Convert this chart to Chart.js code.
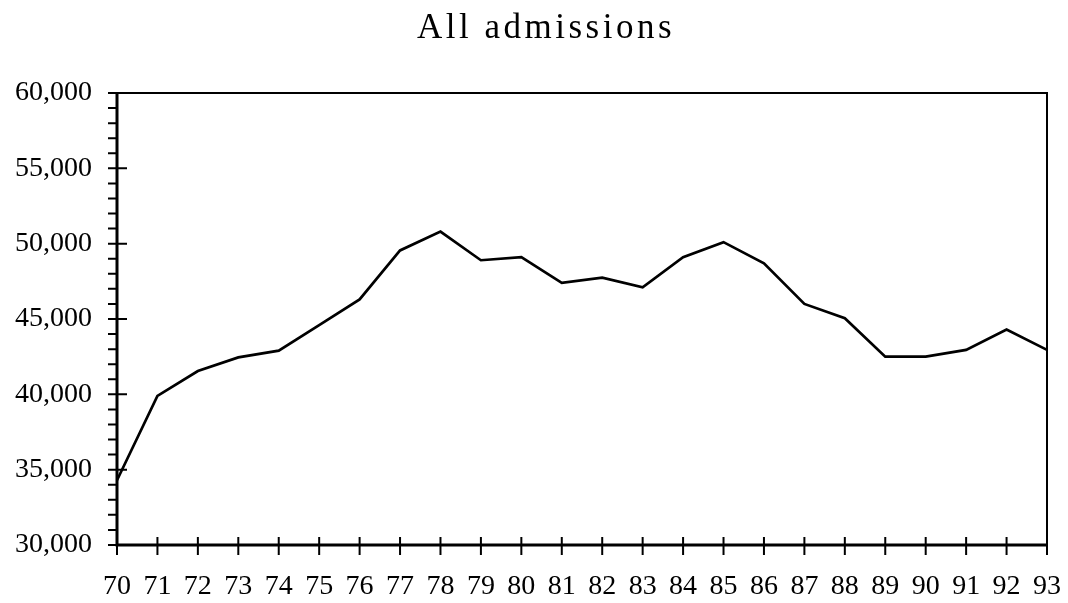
<!DOCTYPE html>
<html>
<head>
<meta charset="utf-8">
<title>All admissions</title>
<script src="https://cdn.jsdelivr.net/npm/chart.js@4.4.1/dist/chart.umd.min.js"></script>
<style>
    html, body { margin: 0; padding: 0; background: #fff; }
    #wrap { width: 1068px; height: 603px; }
</style>
</head>
<body>
<div id="wrap"><canvas id="admissionsChart"></canvas></div>
<script>
// ============================================
// ALL ADMISSIONS, 1970-1993
// ============================================

const years = ['70', '71', '72', '73', '74', '75', '76', '77', '78', '79', '80', '81',
               '82', '83', '84', '85', '86', '87', '88', '89', '90', '91', '92', '93'];
const admissions = [34300, 39900, 41550, 42450, 42900, 44600, 46300, 49550, 50800, 48900, 49100, 47400,
                    47750, 47100, 49100, 50100, 48700, 46000, 45050, 42500, 42500, 42950, 44300, 42950];
const yMin = 30000;
const yMax = 60000;
const yStep = 5000;
const yMinorStep = 1000;

const FONT = "'Liberation Serif', 'Times New Roman', serif";

// old-style frame: box round the plot, ticks crossing the axes, minor ticks on the left
const framePlugin = {
    id: 'frame',
    afterDraw(chart) {
        const { ctx, chartArea: a, scales: { x, y } } = chart;
        ctx.save();
        ctx.strokeStyle = '#000';
        ctx.lineCap = 'butt';

        ctx.lineWidth = 2;
        ctx.strokeRect(a.left, a.top, a.right - a.left, a.bottom - a.top);

        ctx.lineWidth = 3;
        ctx.beginPath();
        ctx.moveTo(a.left, a.top - 1);
        ctx.lineTo(a.left, a.bottom);
        ctx.lineTo(a.right + 1, a.bottom);
        ctx.stroke();

        ctx.lineWidth = 2;
        ctx.beginPath();
        for (let v = yMin; v <= yMax; v += yMinorStep) {
            const py = y.getPixelForValue(v);
            const major = v % yStep === 0;
            ctx.moveTo(a.left - 9, py);
            ctx.lineTo(a.left + (major ? 10 : 1), py);
        }
        years.forEach((_, i) => {
            const px = x.getPixelForTick(i);
            ctx.moveTo(px, a.bottom - 8);
            ctx.lineTo(px, a.bottom + 10);
        });
        ctx.stroke();

        ctx.fillStyle = '#000';
        ctx.font = `35px ${FONT}`;
        ctx.letterSpacing = '3.5px';
        ctx.textAlign = 'center';
        ctx.textBaseline = 'alphabetic';
        ctx.fillText('All admissions', 546, 38);
        ctx.restore();
    }
};

const ctx = document.getElementById('admissionsChart').getContext('2d');
const admissionsChart = new Chart(ctx, {
    type: 'line',
    data: {
        labels: years,
        datasets: [{
            label: 'All admissions',
            data: admissions,
            borderColor: '#000',
            borderWidth: 2.7,
            pointRadius: 0,
            tension: 0,
            fill: false
        }]
    },
    options: {
        responsive: true,
        maintainAspectRatio: false,
        animation: false,
        layout: { padding: { top: 93, right: 21, left: 0, bottom: 0 } },
        plugins: { legend: { display: false }, title: { display: false }, tooltip: { enabled: false } },
        scales: {
            x: {
                offset: false,
                grid: { display: false, drawTicks: false },
                border: { display: false },
                ticks: { color: '#000', padding: 25, autoSkip: false, maxRotation: 0, font: { family: FONT, size: 28 } },
                afterFit: (scale) => { scale.height = 58; scale.paddingLeft = 0; scale.paddingRight = 0; }
            },
            y: {
                min: yMin,
                max: yMax,
                grid: { display: false, drawTicks: false },
                border: { display: false },
                ticks: { stepSize: yStep, color: '#000', padding: 25, font: { family: FONT, size: 28 } },
                afterFit: (scale) => { scale.width = 117; }
            }
        }
    },
    plugins: [framePlugin]
});
</script>
</body>
</html>
